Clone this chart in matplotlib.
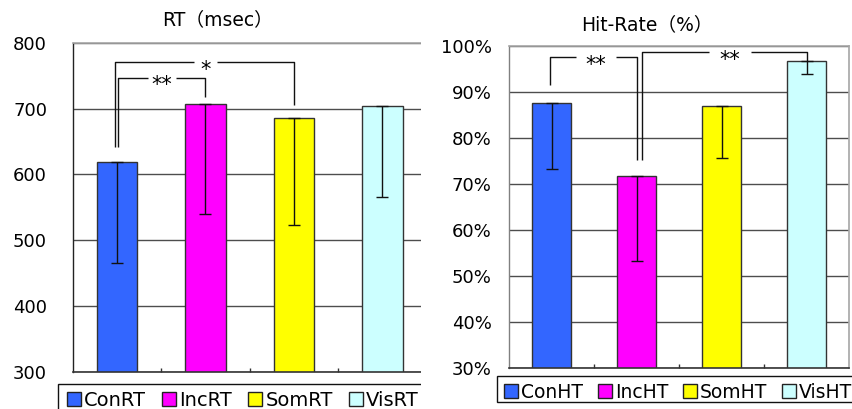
import matplotlib
matplotlib.use("Agg")
import matplotlib.pyplot as plt
from matplotlib.patches import Rectangle
from matplotlib.ticker import PercentFormatter, FixedLocator
from matplotlib.transforms import Affine2D, offset_copy

plt.rcParams['font.family'] = ['DejaVu Sans', 'Noto Sans CJK JP']

# Reaction time (msec): means and lower error extents
rt_labels = ['ConRT', 'IncRT', 'SomRT', 'VisRT']
rt_mean = [618, 707, 686, 704]
rt_err = [153, 168, 163, 139]

# Hit rate (%): means and lower error extents
hit_labels = ['ConHT', 'IncHT', 'SomHT', 'VisHT']
hit_mean = [87.5, 71.7, 86.9, 96.7]
hit_err = [14.2, 18.5, 11.3, 2.9]

colors = ['#3366FF', '#FF00FF', '#FFFF00', '#CCFFFF']

W, H = 853, 409
fig = plt.figure(figsize=(W / 100, H / 100), dpi=100)
# pixel coordinates, origin at the top-left corner
PX = Affine2D().scale(1 / W, -1 / H).translate(0, 1) + fig.transFigure


def px_rect(x0, x1, ytop, ybot):
    return [x0 / W, 1 - ybot / H, (x1 - x0) / W, (ybot - ytop) / H]


def style_axes(ax, ylo, yhi, yticks, pad):
    ax.set_xlim(-0.5, 3.5)
    ax.set_ylim(ylo, yhi)
    ax.set_yticks(yticks)
    ax.yaxis.grid(True, color='#4d4d4d', linewidth=1.0)
    ax.set_axisbelow(True)
    ax.set_xticks([])
    ax.xaxis.set_minor_locator(FixedLocator([0.5, 1.5, 2.5]))
    ax.tick_params(axis='x', which='minor', direction='in', length=3,
                   color='#333333', width=1)
    ax.tick_params(axis='y', length=0, pad=pad, labelsize=13)
    for side in ('top', 'right'):
        ax.spines[side].set_color('#a6a6a6')
        ax.spines[side].set_linewidth(1.2)
    ax.spines['left'].set_color('#222222')
    ax.spines['bottom'].set_color('#333333')
    ax.spines['left'].set_linewidth(1.0)
    ax.spines['bottom'].set_linewidth(1.2)


def draw_bars(ax, means, errs):
    x = range(len(means))
    bars = ax.bar(x, means, width=0.46, color=colors, edgecolor='#333333',
                  linewidth=1.0, zorder=2)
    ax.errorbar(x, means, yerr=[errs, [0] * len(errs)], fmt='none',
                ecolor='#111111', elinewidth=1.0, capsize=4, capthick=1.0,
                zorder=3)
    return bars


def bracket(ax, x0, x1, top, b0, b1, text, tx, half_gap):
    kw = dict(color='#111111', linewidth=1.0, zorder=4, clip_on=False,
              solid_capstyle='butt')
    ax.plot([x0, x0, tx - half_gap], [b0, top, top], **kw)
    ax.plot([tx + half_gap, x1, x1], [top, top, b1], **kw)
    tr = offset_copy(ax.transData, fig=fig, x=0, y=-10, units='points')
    ax.text(tx, top, text, ha='center', va='baseline', fontsize=15,
            transform=tr, zorder=5)


def legend_row(bars, labels, fx, fy, fw, fh, first_x, base_y, size, gap, z):
    fig.add_artist(Rectangle((fx, fy), fw, fh, transform=PX,
                             facecolor='white', edgecolor='#111111',
                             linewidth=1.0, zorder=z))
    renderer = fig.canvas.get_renderer()
    x = first_x
    for bar, lab in zip(bars, labels):
        fig.add_artist(Rectangle((x, base_y - 13.5), 14, 13.5, transform=PX,
                                 facecolor=bar.get_facecolor(),
                                 edgecolor='#222222', linewidth=1.0,
                                 zorder=z + 0.1))
        t = fig.text(x + 17, base_y, lab, transform=PX, ha='left',
                     va='baseline', fontsize=size, zorder=z + 0.2)
        x = x + 17 + t.get_window_extent(renderer).width + gap


# ---- reaction time panel ----
ax1 = fig.add_axes(px_rect(72.7, 426.7, 42.7, 371.7))
style_axes(ax1, 300, 800, [300, 400, 500, 600, 700, 800], 18.5)
bars1 = draw_bars(ax1, rt_mean, rt_err)
bracket(ax1, 0.014, 1.0, 747, 641, 717, '**', 0.51, 0.16)
bracket(ax1, -0.025, 2.0, 770, 641, 705, '*', 1.006, 0.13)
fig.text(218 / W, 1 - 20 / H, 'RT（msec）', ha='center', va='center',
         fontsize=13.5)
legend_row(bars1, rt_labels, 58.3, 384, 400, 26, 66.7, 405.5, 14, 16.5, 1)

# white margin cutting off the right end of the first panel
fig.add_artist(Rectangle((421 / W, 0), 80 / W, 1, transform=fig.transFigure,
                         facecolor='white', edgecolor='none', zorder=3))

# ---- hit rate panel ----
ax2 = fig.add_axes(px_rect(509.3, 849.3, 45.7, 367.7))
ax2.set_zorder(5)
style_axes(ax2, 30, 100, list(range(30, 101, 10)), 12.7)
ax2.spines['left'].set_color('#808080')
ax2.yaxis.set_major_formatter(PercentFormatter(decimals=0))
bars2 = draw_bars(ax2, hit_mean, hit_err)
bracket(ax2, -0.016, 1.0, 97.6, 91.4, 75.2, '**', 0.52, 0.24)
bracket(ax2, 1.06, 3.0, 98.7, 75.2, 96.7, '**', 2.093, 0.247)
t2 = fig.text(647 / W, 1 - 25 / H, 'Hit-Rate（%）', ha='center', va='center',
              fontsize=13.5)
t2.set_zorder(6)
legend_row(bars2, hit_labels, 496.7, 376, 400, 25.7, 504.3, 397.5, 13.5,
           14.5, 6)

fig.savefig('out.png', dpi=100)
